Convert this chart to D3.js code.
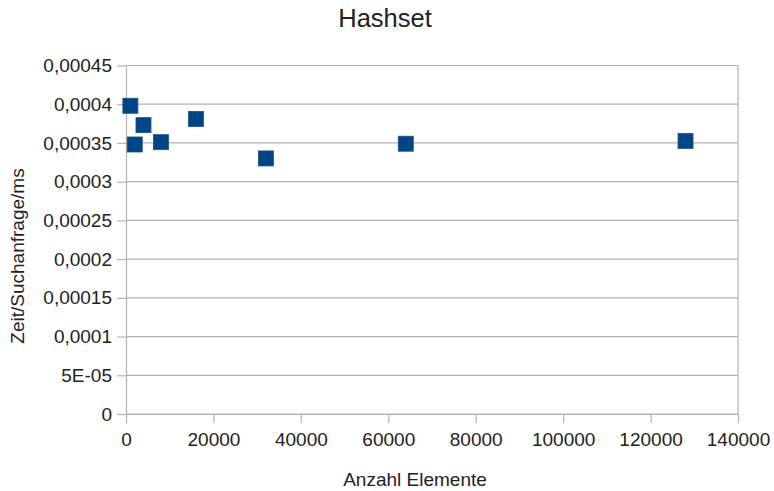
<!DOCTYPE html>
<html><head><meta charset="utf-8">
<script src="https://cdn.jsdelivr.net/npm/d3@7"></script>
<style>body{margin:0;background:#fff;} text{font-family:"Liberation Sans",Arial,sans-serif;fill:#222;}</style>
</head><body>
<svg id="c" width="774" height="491"></svg>
<script>
const elements = [1000, 2000, 4000, 8000, 16000, 32000, 64000, 128000];
const timePerQuery = [0.000398, 0.000348, 0.000373, 0.000351, 0.000381, 0.000330, 0.000349, 0.0003526];
const xTicks = [0, 20000, 40000, 60000, 80000, 100000, 120000, 140000];
const yTicks = [0, 0.00005, 0.0001, 0.00015, 0.0002, 0.00025, 0.0003, 0.00035, 0.0004, 0.00045];
const yTickLabels = ["0", "5E-05", "0,0001", "0,00015", "0,0002", "0,00025", "0,0003", "0,00035", "0,0004", "0,00045"];
const title = "Hashset", xTitle = "Anzahl Elemente", yTitle = "Zeit/Suchanfrage/ms";

const svg = d3.select("#c");
const L = 126, R = 738, T = 65.5, B = 414;
const x = d3.scaleLinear().domain([0, 140000]).range([L, R]);
const y = d3.scaleLinear().domain([0, 0.00045]).range([B, T]);
const grid = "#b3b3b3";

svg.append("g").selectAll("line").data(yTicks).join("line")
  .attr("x1", L).attr("x2", R).attr("y1", d => y(d)).attr("y2", d => y(d))
  .attr("stroke", grid).attr("stroke-width", 1.2);
svg.append("line").attr("x1", R).attr("x2", R).attr("y1", T).attr("y2", B).attr("stroke", grid).attr("stroke-width", 1.2);

const yAxis = svg.append("g").attr("transform", `translate(${L},0)`)
  .call(d3.axisLeft(y).tickValues(yTicks).tickFormat((d, i) => yTickLabels[i]).tickSize(9).tickSizeOuter(0).tickPadding(5));
const xAxis = svg.append("g").attr("transform", `translate(0,${B})`)
  .call(d3.axisBottom(x).tickValues(xTicks).tickFormat(d => String(d)).tickSize(9).tickSizeOuter(0).tickPadding(10));
[yAxis, xAxis].forEach(g => {
  g.select(".domain").attr("stroke", grid).attr("stroke-width", 1.2);
  g.selectAll(".tick line").attr("stroke", grid).attr("stroke-width", 1.2);
  g.selectAll("text").style("font-family", '"Liberation Sans",Arial,sans-serif').style("font-size", "19px").attr("fill", "#222");
});

const s = 15;
svg.append("g").selectAll("rect").data(elements).join("rect")
  .attr("x", (d) => x(d) - s / 2).attr("y", (d, i) => y(timePerQuery[i]) - s / 2)
  .attr("width", s).attr("height", s).attr("fill", "#004586").attr("stroke", "#1a4f85").attr("stroke-width", 0.8);

svg.append("text").attr("x", 385).attr("y", 27).attr("text-anchor", "middle").style("font-size", "25.5px").text(title);
svg.append("text").attr("x", 415).attr("y", 486).attr("text-anchor", "middle").style("font-size", "19px").text(xTitle);
svg.append("text").attr("transform", "translate(24,256) rotate(-90)").attr("text-anchor", "middle").style("font-size", "19px").text(yTitle);
</script>
</body></html>
